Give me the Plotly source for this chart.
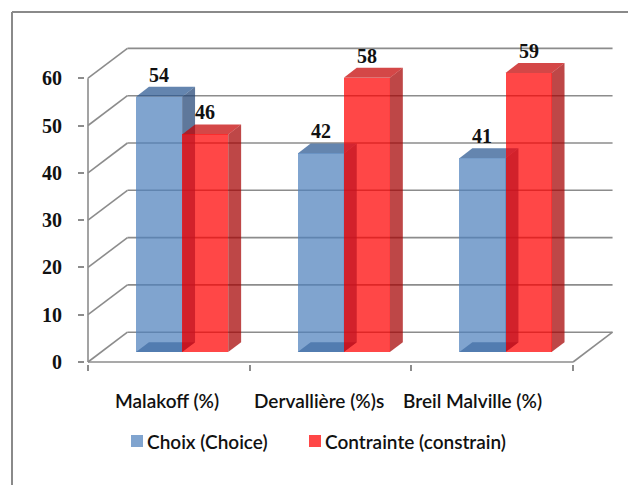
import plotly.graph_objects as go

# ---- data -------------------------------------------------------------
categories = ["Malakoff (%)", "Dervallière (%)s", "Breil Malville (%)"]
series_names = ["Choix (Choice)", "Contrainte (constrain)"]
choix = [54, 42, 41]
contrainte = [46, 58, 59]
y_ticks = [0, 10, 20, 30, 40, 50, 60]

# ---- pseudo-3D geometry (category units on x, value units on y) -----
DX, DY = 0.244, 6.3          # depth of the floor / walls
BW = 0.285                   # width of one bar face
BDX, BDY = 0.08, 2.1         # depth of one bar
SX, SY = (DX - BDX) / 2, (DY - BDY) / 2   # bars stand mid-depth

PX_PER_CAT = 161.7
PX_PER_VAL = 4.73
W, H = 628, 485
L, R, T, B = 85, 15, 43, 121
x_lo = -0.5 - 3 / PX_PER_CAT
x_hi = x_lo + (W - L - R) / PX_PER_CAT
y_lo = -(H - B - 362) / PX_PER_VAL
y_hi = y_lo + (H - T - B) / PX_PER_VAL

GRID = "#8c8c8c"
ALPHA = 0.72
series_style = [
    dict(front=(79, 129, 189), top=(40, 86, 144), side=(33, 68, 117), bottom=(25, 55, 100)),
    dict(front=(255, 0, 0), top=(196, 0, 0), side=(165, 0, 0), bottom=None),
]
LABEL_FONT = dict(family="Lato", size=19, color="#111", weight=600)
VALUE_FONT = dict(family="Liberation Serif", size=20, color="#111", weight="bold")


def rgba(c, a=ALPHA):
    return f"rgba({c[0]},{c[1]},{c[2]},{a})"


def solid(c, a=ALPHA):
    # colour of a translucent fill laid over white
    return "rgb({},{},{})".format(*[round(a * ch + (1 - a) * 255) for ch in c])


def poly(points, fill):
    path = "M " + " L ".join(f"{x},{y}" for x, y in points) + " Z"
    return dict(type="path", path=path, xref="x", yref="y", layer="below",
                fillcolor=fill, line=dict(width=0))


def seg(x0, y0, x1, y1, width=1.6, color=GRID, xref="x", yref="y"):
    return dict(type="line", x0=x0, y0=y0, x1=x1, y1=y1, xref=xref, yref=yref,
                layer="below", line=dict(color=color, width=width))


shapes = []
n = len(categories)
# back-wall gridlines and the diagonals joining them to the front axis
for v in y_ticks:
    shapes.append(seg(-0.5 + DX, v + DY, n - 0.5 + DX, v + DY))
    shapes.append(seg(-0.5, v, -0.5 + DX, v + DY))
# floor front and right edges, front value axis
shapes.append(seg(-0.5, 0, n - 0.5, 0))
shapes.append(seg(n - 0.5, 0, n - 0.5 + DX, DY))
shapes.append(seg(-0.5, 0, -0.5, y_ticks[-1]))

series_values = [choix, contrainte]
fig = go.Figure()
annotations = []

for i in range(n):
    for s, vals in enumerate(series_values):
        st = series_style[s]
        v = vals[i]
        x0 = i + SX + (s - 1) * BW
        x1 = x0 + BW
        y0, y1 = SY, SY + v
        if st["bottom"]:
            shapes.append(poly([(x0, y0), (x1, y0), (x1 + BDX, y0 + BDY), (x0 + BDX, y0 + BDY)],
                               rgba(st["bottom"])))
        shapes.append(poly([(x1, y0), (x1 + BDX, y0 + BDY), (x1 + BDX, y1 + BDY), (x1, y1)],
                           rgba(st["side"])))
        shapes.append(poly([(x0, y1), (x1, y1), (x1 + BDX, y1 + BDY), (x0 + BDX, y1 + BDY)],
                           rgba(st["top"])))

for s, vals in enumerate(series_values):
    st = series_style[s]
    centers = [i + SX + (s - 1) * BW + BW / 2 for i in range(n)]
    fig.add_trace(go.Bar(
        x=centers, y=vals, base=SY, width=BW, name=series_names[s],
        marker=dict(color=rgba(st["front"]), line=dict(width=0)),
        hoverinfo="skip", showlegend=False,
    ))
    for xc, v in zip(centers, vals):
        annotations.append(dict(
            x=xc, y=SY + v, xref="x", yref="y", text=str(v), showarrow=False,
            yanchor="bottom", yshift=9, font=VALUE_FONT,
        ))

# category names under the floor
label_shift = [-2, -12, -20]
for i, name in enumerate(categories):
    annotations.append(dict(
        x=i, y=0, xref="x", yref="y", text=name, showarrow=False,
        yanchor="middle", yshift=-38, xshift=label_shift[i], font=LABEL_FONT,
    ))

px2paper_x = lambda px: (px - L) / (W - L - R)
px2paper_y = lambda py: (H - B - py) / (H - T - B)

# legend row: square key + series name
legend_left = [131, 309]
legend_mid_y = 441
for s, name in enumerate(series_names):
    xk = legend_left[s]
    shapes.append(dict(
        type="rect", xref="paper", yref="paper",
        x0=px2paper_x(xk), x1=px2paper_x(xk + 12),
        y0=px2paper_y(legend_mid_y + 6), y1=px2paper_y(legend_mid_y - 6),
        fillcolor=solid(series_style[s]["front"]), line=dict(width=0),
    ))
    annotations.append(dict(
        x=px2paper_x(xk + 14), y=px2paper_y(legend_mid_y), xref="paper", yref="paper",
        text=name, showarrow=False, xanchor="left", yanchor="middle", font=LABEL_FONT,
    ))

# outer frame of the chart area
shapes.append(seg(px2paper_x(12), px2paper_y(12), px2paper_x(W + 2), px2paper_y(12),
                  width=2, color="#8a8a8a", xref="paper", yref="paper"))
shapes.append(seg(px2paper_x(12), px2paper_y(12), px2paper_x(12), px2paper_y(H + 2),
                  width=2, color="#8a8a8a", xref="paper", yref="paper"))

fig.update_layout(
    width=W, height=H, autosize=False,
    margin=dict(l=L, r=R, t=T, b=B, pad=0),
    paper_bgcolor="white", plot_bgcolor="white",
    barmode="overlay", bargap=0,
    shapes=shapes, annotations=annotations,
    showlegend=False,
    xaxis=dict(
        range=[x_lo, x_hi], showgrid=False, zeroline=False, showline=False,
        tickvals=[i - 0.5 for i in range(n + 1)], ticktext=[""] * (n + 1),
        ticks="outside", ticklen=6, tickwidth=1.6, tickcolor=GRID,
        showticklabels=False, fixedrange=True,
    ),
    yaxis=dict(
        range=[y_lo, y_hi], showgrid=False, zeroline=False, showline=False,
        tickvals=y_ticks, ticks="outside", ticklen=6, tickwidth=1.6, tickcolor=GRID,
        tickfont=VALUE_FONT, ticklabelstandoff=12, fixedrange=True,
    ),
)

fig.write_html("out.html")
